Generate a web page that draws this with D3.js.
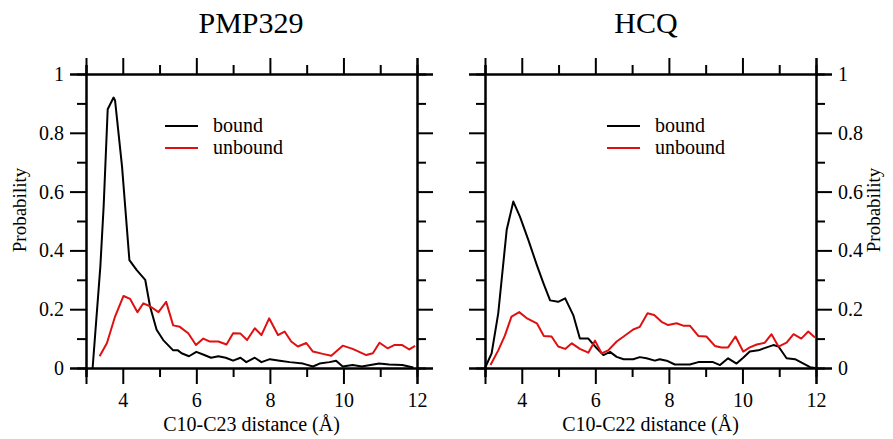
<!DOCTYPE html>
<html>
<head>
<meta charset="utf-8">
<script src="https://cdn.jsdelivr.net/npm/d3@7"></script>
<style>
  body { margin: 0; background: #fff; }
  text { font-family: "Liberation Serif", "DejaVu Serif", serif; fill: #000; }
</style>
</head>
<body>
<div id="vis"></div>
<script>
// chart data: [distance, probability]
var titles = ["PMP329", "HCQ"];
var xLabels = ["C10-C23 distance (\u00C5)", "C10-C22 distance (\u00C5)"];
var seriesNames = ["bound", "unbound"];
var xMajor = [4, 6, 8, 10, 12];
var xMinor = [3, 5, 7, 9, 11];
var yMajor = [0, 0.2, 0.4, 0.6, 0.8, 1];
var yMinor = [0.1, 0.3, 0.5, 0.7, 0.9];

var pmpBound = [[3.18,0],[3.39,0.345],[3.48,0.55],[3.59,0.88],[3.75,0.92],[3.79,0.91],[3.98,0.685],[4.18,0.367],[4.38,0.333],[4.61,0.30],[4.74,0.21],[4.92,0.13],[5.1,0.095],[5.37,0.06],[5.5,0.06],[5.6,0.05],[5.8,0.04],[6.0,0.055],[6.2,0.045],[6.4,0.035],[6.6,0.04],[6.8,0.035],[7.0,0.025],[7.2,0.035],[7.36,0.02],[7.59,0.035],[7.77,0.02],[8.0,0.03],[8.27,0.025],[8.54,0.02],[8.9,0.015],[9.17,0.005],[9.35,0.015],[9.62,0.02],[9.8,0.025],[9.98,0.005],[10.25,0.01],[10.5,0.005],[10.97,0.015],[11.24,0.012],[11.6,0.01],[11.9,0.002]];
var pmpUnbound = [[3.37,0.04],[3.57,0.085],[3.79,0.175],[4.02,0.245],[4.2,0.235],[4.4,0.19],[4.56,0.22],[4.74,0.21],[4.97,0.19],[5.18,0.225],[5.37,0.145],[5.55,0.14],[5.78,0.118],[5.99,0.078],[6.19,0.10],[6.37,0.09],[6.6,0.09],[6.82,0.08],[7.0,0.118],[7.2,0.117],[7.38,0.095],[7.59,0.135],[7.77,0.112],[7.98,0.169],[8.22,0.112],[8.4,0.124],[8.58,0.09],[8.76,0.073],[8.99,0.085],[9.17,0.056],[9.44,0.048],[9.67,0.042],[9.98,0.076],[10.25,0.065],[10.62,0.044],[10.8,0.05],[10.98,0.086],[11.2,0.067],[11.38,0.078],[11.6,0.078],[11.79,0.063],[11.95,0.075]];
var hcqBound = [[3.0,0],[3.18,0.05],[3.36,0.186],[3.59,0.47],[3.77,0.566],[3.95,0.515],[4.18,0.435],[4.41,0.35],[4.59,0.288],[4.77,0.23],[4.99,0.225],[5.18,0.237],[5.4,0.18],[5.58,0.1],[5.81,0.1],[6.04,0.067],[6.22,0.044],[6.4,0.055],[6.58,0.038],[6.77,0.03],[7.03,0.03],[7.21,0.037],[7.39,0.033],[7.62,0.025],[7.75,0.03],[7.94,0.025],[8.16,0.012],[8.57,0.012],[8.8,0.02],[9.2,0.02],[9.39,0.01],[9.61,0.033],[9.84,0.015],[10.02,0.035],[10.2,0.056],[10.43,0.06],[10.66,0.07],[10.84,0.078],[10.98,0.073],[11.2,0.033],[11.43,0.03],[11.66,0.015],[11.84,0.003],[11.97,0]];
var hcqUnbound = [[3.15,0.01],[3.36,0.06],[3.54,0.11],[3.72,0.175],[3.93,0.19],[4.13,0.17],[4.41,0.152],[4.6,0.109],[4.81,0.107],[4.99,0.073],[5.18,0.065],[5.36,0.084],[5.58,0.065],[5.81,0.052],[5.99,0.093],[6.17,0.05],[6.35,0.06],[6.58,0.09],[6.77,0.107],[7.03,0.131],[7.21,0.14],[7.42,0.186],[7.6,0.18],[7.8,0.157],[7.98,0.146],[8.21,0.152],[8.39,0.144],[8.57,0.144],[8.8,0.109],[9.02,0.107],[9.25,0.075],[9.43,0.07],[9.61,0.07],[9.81,0.107],[10.02,0.056],[10.2,0.07],[10.39,0.08],[10.61,0.086],[10.79,0.115],[10.98,0.073],[11.2,0.086],[11.39,0.115],[11.6,0.1],[11.79,0.124],[11.97,0.104]];

var colors = ["#000000", "#e01010"];
var W = 893, H = 439;

var svg = d3.select("#vis").append("svg")
    .attr("width", W)
    .attr("height", H);

// panel layout (left edge, right edge, which side gets y labels)
var panels = [
    { x0: 86, x1: 417, side: "left", data: [pmpBound, pmpUnbound], titleX: 251, legX: 165 },
    { x0: 485, x1: 816, side: "right", data: [hcqBound, hcqUnbound], titleX: 646, legX: 607 }
];
var yTop = 74, yBottom = 368;
var majorLen = 16, minorLen = 9;

var yScale = d3.scaleLinear().domain([0, 1]).range([yBottom, yTop]);

function styleAxis(g) {
    g.select(".domain").attr("stroke-width", 2);
    g.selectAll(".tick line").attr("stroke-width", 2);
    g.selectAll("text")
        .attr("font-family", "'Liberation Serif', serif")
        .attr("font-size", 20)
        .attr("fill", "#000");
}

panels.forEach(function (p, i) {
    var xScale = d3.scaleLinear().domain([3, 12]).range([p.x0, p.x1]);
    var g = svg.append("g");

    // x axes, bottom with labels, top without
    [["bottom", yBottom, d3.axisBottom], ["top", yTop, d3.axisTop]].forEach(function (a) {
        var labelled = a[0] === "bottom";
        g.append("g")
            .attr("transform", "translate(0," + a[1] + ")")
            .call(a[2](xScale).tickValues(xMinor).tickSize(minorLen).tickFormat(""))
            .call(styleAxis);
        g.append("g")
            .attr("transform", "translate(0," + a[1] + ")")
            .call(a[2](xScale).tickValues(xMajor).tickSize(majorLen).tickPadding(9)
                .tickFormat(labelled ? d3.format("d") : ""))
            .call(styleAxis);
    });

    // y axes, one side with labels
    [["left", p.x0, d3.axisLeft], ["right", p.x1, d3.axisRight]].forEach(function (a) {
        var labelled = a[0] === p.side;
        g.append("g")
            .attr("transform", "translate(" + a[1] + ",0)")
            .call(a[2](yScale).tickValues(yMinor).tickSize(minorLen).tickFormat(""))
            .call(styleAxis);
        g.append("g")
            .attr("transform", "translate(" + a[1] + ",0)")
            .call(a[2](yScale).tickValues(yMajor).tickSize(majorLen).tickPadding(6)
                .tickFormat(labelled ? function (d) { return d3.format("")(d); } : ""))
            .call(styleAxis);
    });

    // curves
    var line = d3.line()
        .x(function (d) { return xScale(d[0]); })
        .y(function (d) { return yScale(d[1]); });

    p.data.forEach(function (s, k) {
        g.append("path")
            .datum(s)
            .attr("fill", "none")
            .attr("stroke", colors[k])
            .attr("stroke-width", 2)
            .attr("stroke-linejoin", "round")
            .attr("d", line);
    });

    // legend
    seriesNames.forEach(function (name, k) {
        var ly = 126 + k * 22;
        g.append("line")
            .attr("x1", p.legX).attr("x2", p.legX + 33)
            .attr("y1", ly).attr("y2", ly)
            .attr("stroke", colors[k])
            .attr("stroke-width", 2);
        g.append("text")
            .attr("x", p.legX + 48)
            .attr("y", ly)
            .attr("dy", "0.32em")
            .attr("font-size", 20)
            .text(name);
    });

    // title
    g.append("text")
        .attr("x", p.titleX)
        .attr("y", 33)
        .attr("text-anchor", "middle")
        .attr("font-size", 30)
        .text(titles[i]);

    // x label
    g.append("text")
        .attr("x", (p.x0 + p.x1) / 2)
        .attr("y", 431)
        .attr("text-anchor", "middle")
        .attr("font-size", 20)
        .text(xLabels[i]);

    // y label
    var lx = p.side === "left" ? 26 : 880;
    g.append("text")
        .attr("transform", "translate(" + lx + ",210) rotate(-90)")
        .attr("text-anchor", "middle")
        .attr("font-size", 19)
        .text("Probability");
});
</script>
</body>
</html>
